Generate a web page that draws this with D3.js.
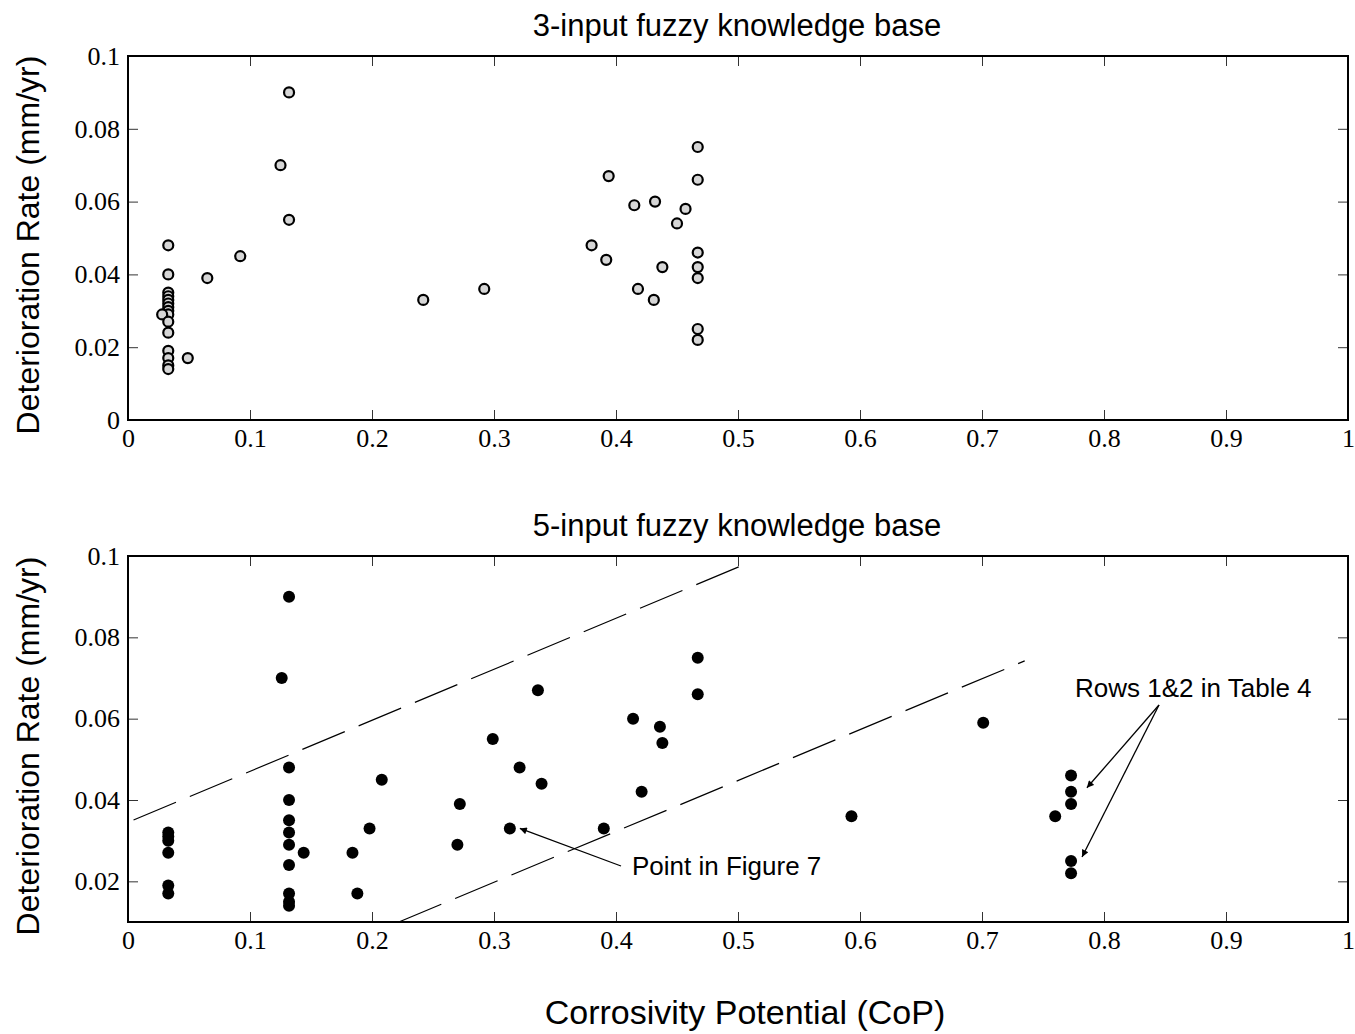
<!DOCTYPE html>
<html>
<head>
<meta charset="utf-8">
<script src="https://cdn.jsdelivr.net/npm/d3@7"></script>
<style>
  body { margin: 0; background: #fff; }
  svg { display: block; }
  .tick text { font-family: "Liberation Serif", "Times New Roman", serif; font-size: 26px; fill: #000; }
  .lbl { font-family: "Liberation Sans", Arial, sans-serif; fill: #000; }
</style>
</head>
<body>
<svg id="chart" width="1355" height="1034"></svg>
<script>
// 3-input fuzzy knowledge base (open circles)
var cop3 = [0.132, 0.125, 0.132, 0.033, 0.033, 0.033, 0.033, 0.033, 0.033, 0.033, 0.033, 0.033, 0.028,
            0.033, 0.033, 0.033, 0.033, 0.033, 0.033, 0.049, 0.065, 0.092, 0.242, 0.292, 0.380, 0.392,
            0.394, 0.415, 0.432, 0.457, 0.450, 0.418, 0.431, 0.438, 0.467, 0.467, 0.467, 0.467, 0.467,
            0.467, 0.467];
var rate3 = [0.090, 0.070, 0.055, 0.048, 0.040, 0.035, 0.034, 0.033, 0.032, 0.031, 0.030, 0.029, 0.029,
             0.027, 0.024, 0.019, 0.017, 0.015, 0.014, 0.017, 0.039, 0.045, 0.033, 0.036, 0.048, 0.044,
             0.067, 0.059, 0.060, 0.058, 0.054, 0.036, 0.033, 0.042, 0.075, 0.066, 0.046, 0.042, 0.039,
             0.025, 0.022];

// 5-input fuzzy knowledge base (filled circles)
var cop5 = [0.132, 0.126, 0.132, 0.132, 0.132, 0.132, 0.132, 0.132, 0.132, 0.132, 0.132, 0.033, 0.033,
            0.033, 0.033, 0.033, 0.033, 0.144, 0.184, 0.188, 0.198, 0.208, 0.270, 0.272, 0.299, 0.313,
            0.321, 0.336, 0.339, 0.390, 0.414, 0.436, 0.438, 0.421, 0.467, 0.467, 0.593, 0.701, 0.760,
            0.773, 0.773, 0.773, 0.773, 0.773];
var rate5 = [0.090, 0.070, 0.048, 0.040, 0.035, 0.032, 0.029, 0.024, 0.017, 0.015, 0.014, 0.032, 0.031,
             0.030, 0.027, 0.019, 0.017, 0.027, 0.027, 0.017, 0.033, 0.045, 0.029, 0.039, 0.055, 0.033,
             0.048, 0.067, 0.044, 0.033, 0.060, 0.058, 0.054, 0.042, 0.075, 0.066, 0.036, 0.059, 0.036,
             0.046, 0.042, 0.039, 0.025, 0.022];

// dashed band in the lower panel: [x0, y0, x1, y1]
var bandUpper = [0, 0.0345, 0.502, 0.0975];
var bandLower = [0.222, 0.010, 0.735, 0.0742];

var xTicks = [0, 0.1, 0.2, 0.3, 0.4, 0.5, 0.6, 0.7, 0.8, 0.9, 1];
var yTicksTop = [0, 0.02, 0.04, 0.06, 0.08, 0.1];
var yTicksBot = [0.02, 0.04, 0.06, 0.08, 0.1];

// annotations: text, text position, arrow start, arrow targets (data coords)
var note7 = { text: "Point in Figure 7", x: 632, y: 875, from: [621, 866], to: [[0.313, 0.033]] };
var noteRows = { text: "Rows 1&2 in Table 4", x: 1075, y: 697, from: [1159, 705], to: [[0.786, 0.043], [0.782, 0.026]] };

var svg = d3.select("#chart");

svg.append("defs").append("marker")
   .attr("id", "arr")
   .attr("viewBox", "0 0 10 10")
   .attr("refX", 10).attr("refY", 5)
   .attr("markerWidth", 9).attr("markerHeight", 7)
   .attr("markerUnits", "userSpaceOnUse")
   .attr("orient", "auto")
   .append("path").attr("d", "M0,0 L10,5 L0,10 z").attr("fill", "#000");

var left = 128, right = 1348;
var x = d3.scaleLinear().domain([0, 1]).range([left, right]);

function panel(top, bottom, ymin, yticks, title) {
   var y = d3.scaleLinear().domain([ymin, 0.1]).range([bottom, top]);
   var g = svg.append("g");

   // ticks inside on all four sides
   g.append("g").attr("transform", "translate(0," + bottom + ")")
      .call(d3.axisBottom(x).tickValues(xTicks).tickSizeInner(-10).tickSizeOuter(0).tickPadding(9)
            .tickFormat(function(d) { return d === 0 || d === 1 ? d : d3.format(".1f")(d); }));
   g.append("g").attr("transform", "translate(0," + top + ")")
      .call(d3.axisTop(x).tickValues(xTicks).tickSizeInner(-10).tickSizeOuter(0).tickFormat(""));
   g.append("g").attr("transform", "translate(" + left + ",0)")
      .call(d3.axisLeft(y).tickValues(yticks).tickSizeInner(-10).tickSizeOuter(0).tickPadding(8)
            .tickFormat(function(d) { return d === 0 ? "0" : String(+d.toFixed(2)); }));
   g.append("g").attr("transform", "translate(" + right + ",0)")
      .call(d3.axisRight(y).tickValues(yticks).tickSizeInner(-10).tickSizeOuter(0).tickFormat(""));

   g.selectAll(".domain").remove();
   g.selectAll(".tick line").attr("stroke", "#333").attr("stroke-width", 1);

   g.append("rect")
      .attr("x", left).attr("y", top)
      .attr("width", right - left).attr("height", bottom - top)
      .attr("fill", "none").attr("stroke", "#000").attr("stroke-width", 2);

   g.append("text").attr("class", "lbl")
      .attr("x", 737).attr("y", top - 20)
      .attr("text-anchor", "middle").attr("font-size", 31)
      .text(title);

   g.append("text").attr("class", "lbl")
      .attr("transform", "translate(39," + ((top + bottom) / 2 + 7) + ") rotate(-90)")
      .attr("text-anchor", "middle").attr("font-size", 32)
      .text("Deterioration Rate (mm/yr)");

   return y;
}

var yTop = panel(56, 420, 0, yTicksTop, "3-input fuzzy knowledge base");
var yBot = panel(556, 922, 0.01, yTicksBot, "5-input fuzzy knowledge base");

// top: open grey circles
svg.append("g").selectAll("circle")
   .data(d3.range(cop3.length))
   .enter().append("circle")
   .attr("cx", function(i) { return x(cop3[i]); })
   .attr("cy", function(i) { return yTop(rate3[i]); })
   .attr("r", 5)
   .attr("fill", "#d6d6d6")
   .attr("stroke", "#000")
   .attr("stroke-width", 2.2);

// bottom: dashed band
[bandUpper, bandLower].forEach(function(b, k) {
   svg.append("line")
      .attr("x1", x(b[0])).attr("y1", yBot(b[1]))
      .attr("x2", x(b[2])).attr("y2", yBot(b[3]))
      .attr("stroke", "#000").attr("stroke-width", 1.2)
      .attr("stroke-dasharray", "46,15")
      .attr("stroke-dashoffset", k === 0 ? 55 : 0);
});

svg.append("g").selectAll("circle")
   .data(d3.range(cop5.length))
   .enter().append("circle")
   .attr("cx", function(i) { return x(cop5[i]); })
   .attr("cy", function(i) { return yBot(rate5[i]); })
   .attr("r", 6)
   .attr("fill", "#000");

// annotations
[note7, noteRows].forEach(function(n) {
   svg.append("text").attr("class", "lbl")
      .attr("x", n.x).attr("y", n.y)
      .attr("font-size", 26)
      .text(n.text);
   n.to.forEach(function(t) {
      var tx = x(t[0]), ty = yBot(t[1]);
      if (n === note7) { tx += 10; }
      svg.append("line")
         .attr("x1", n.from[0]).attr("y1", n.from[1])
         .attr("x2", tx).attr("y2", ty)
         .attr("stroke", "#000").attr("stroke-width", 1.3)
         .attr("marker-end", "url(#arr)");
   });
});

svg.append("text").attr("class", "lbl")
   .attr("x", 745).attr("y", 1024)
   .attr("text-anchor", "middle").attr("font-size", 34)
   .text("Corrosivity Potential (CoP)");
</script>
</body>
</html>
